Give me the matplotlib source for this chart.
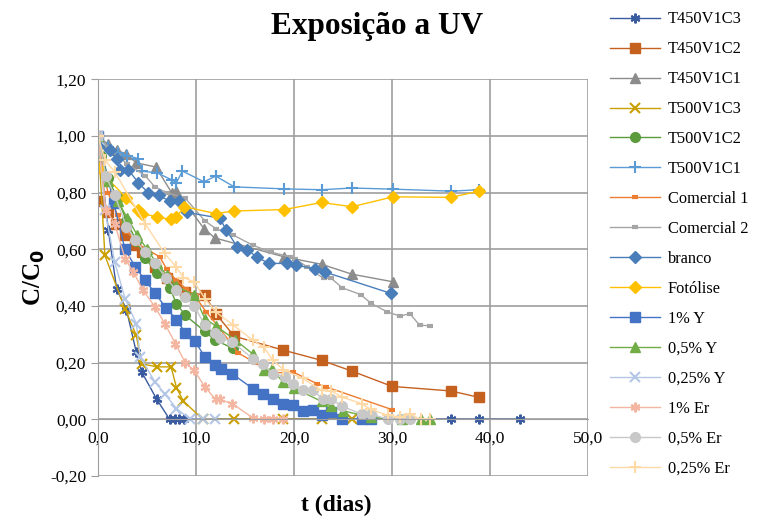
import matplotlib
matplotlib.use("Agg")
import matplotlib.pyplot as plt
from matplotlib.ticker import FuncFormatter

plt.rcParams["font.family"] = ["Liberation Serif", "DejaVu Serif"]

# dados (t em dias, C/C0)
labels = ["T450V1C3", "T450V1C2", "T450V1C1", "T500V1C3", "T500V1C2", "T500V1C1",
          "Comercial 1", "Comercial 2", "branco", "Fotólise", "1% Y", "0,5% Y",
          "0,25% Y", "1% Er", "0,5% Er", "0,25% Er"]

t_t450c3 = [0, 1.05, 1.9, 2.9, 3.9, 4.45, 6.0, 7.3, 7.8, 8.3, 8.8, 36, 38.9, 43]
c_t450c3 = [1.0, 0.667, 0.46, 0.387, 0.237, 0.167, 0.07, 0, 0, 0, 0, 0, 0, 0]

t_t450c2 = [0, 1, 1.8, 2.8, 3.8, 4.45, 5.8, 7, 8, 8.9, 10.9, 12, 13.9, 18.9, 22.8, 25.9, 30, 36, 38.9]
c_t450c2 = [0.77, 0.73, 0.69, 0.65, 0.614, 0.59, 0.537, 0.50, 0.473, 0.45, 0.438, 0.373,
            0.293, 0.244, 0.208, 0.17, 0.116, 0.10, 0.077]

t_t450c1 = [0, 1, 1.9, 2.9, 3.9, 5.9, 7.5, 8.0, 10.8, 11.9, 19.0, 22.8, 25.9, 30.1]
c_t450c1 = [1.0, 0.97, 0.95, 0.935, 0.905, 0.89, 0.80, 0.805, 0.673, 0.64, 0.573, 0.547, 0.512, 0.485]

t_t500c3 = [0, 0.7, 2.75, 3.9, 4.45, 6.0, 7.45, 8.0, 8.7, 10.7, 13.9, 18.9, 22.8, 25.9]
c_t500c3 = [1.0, 0.578, 0.39, 0.296, 0.196, 0.185, 0.185, 0.112, 0.064, 0, 0, 0, 0, 0]

t_t500c2 = [0, 0.3, 1, 2, 2.9, 3.9, 4.8, 6.0, 7.3, 8.0, 8.9, 10.9, 11.9, 13.8]
c_t500c2 = [1.0, 0.93, 0.85, 0.78, 0.70, 0.63, 0.57, 0.515, 0.465, 0.408, 0.367, 0.31, 0.28, 0.25]

t_t500c1 = [0, 1, 2, 3, 4.1, 4.5, 6.0, 7.5, 8.0, 8.6, 10.8, 12.0, 13.9, 19.0, 22.8, 25.9, 30.1, 36.0, 38.9]
c_t500c1 = [1.0, 0.96, 0.94, 0.93, 0.92, 0.875, 0.87, 0.845, 0.835, 0.876, 0.838, 0.858,
            0.82, 0.813, 0.81, 0.816, 0.812, 0.805, 0.81]

t_com1 = [0, 1, 2, 3, 4, 5, 6.3, 7, 8, 9, 10, 11, 12.3, 14.3, 16, 17.7, 19.9, 22.3, 23.3, 30]
c_com1 = [1.0, 0.80, 0.72, 0.66, 0.62, 0.60, 0.573, 0.53, 0.49, 0.46, 0.43, 0.38, 0.326,
          0.234, 0.20, 0.163, 0.167, 0.126, 0.114, 0.034]

t_com2 = [0, 1, 2, 3, 4.8, 5.8, 7, 8.9, 10.9, 12, 13.8, 15.8, 17.6, 19.6, 20.1, 21.3, 23,
          23.8, 24.9, 26.8, 27.8, 29.5, 30.8, 31.8, 32.8, 33.9]
c_com2 = [1.0, 0.96, 0.93, 0.90, 0.86, 0.82, 0.80, 0.78, 0.70, 0.673, 0.65, 0.614, 0.59,
          0.573, 0.567, 0.538, 0.497, 0.497, 0.464, 0.44, 0.41, 0.379, 0.364, 0.373, 0.332, 0.33]

t_branco = [0, 1.2, 1.9, 2.2, 3.1, 4.1, 5.1, 6.2, 7.3, 8.3, 9.05, 12.4, 13.1, 14.2, 15.2,
            16.2, 17.4, 19.3, 20.2, 22.1, 23.2, 29.9]
c_branco = [0.965, 0.95, 0.917, 0.88, 0.88, 0.835, 0.80, 0.79, 0.77, 0.77, 0.73, 0.71,
            0.667, 0.608, 0.598, 0.573, 0.55, 0.55, 0.543, 0.532, 0.519, 0.444]

t_fotolise = [0, 2.9, 4.1, 4.5, 6.0, 7.45, 8.0, 8.8, 12.0, 13.9, 19.0, 22.8, 25.9, 30.1, 36.0, 38.9]
c_fotolise = [0.885, 0.78, 0.74, 0.726, 0.714, 0.705, 0.714, 0.75, 0.726, 0.735, 0.74,
              0.765, 0.75, 0.785, 0.783, 0.805]

t_y1 = [0, 1.6, 2.75, 3.8, 4.8, 5.8, 6.9, 8.0, 8.9, 9.9, 10.9, 11.9, 12.5, 13.7, 15.8, 16.8,
        17.8, 18.9, 19.9, 20.9, 21.9, 22.8, 23.8, 24.9, 26.9, 27.8]
c_y1 = [1.0, 0.763, 0.60, 0.538, 0.49, 0.446, 0.394, 0.352, 0.305, 0.275, 0.22, 0.19, 0.179,
        0.16, 0.108, 0.09, 0.07, 0.055, 0.05, 0.03, 0.032, 0.014, 0.026, 0, 0, 0]

t_y05 = [0, 1, 2, 3, 4, 5, 6, 7, 8, 9.8, 10.9, 12, 14, 15.8, 16.9, 17.7, 18.9, 20, 22.8,
         23.8, 25, 27.8, 31, 32.9, 33.9]
c_y05 = [1.0, 0.84, 0.77, 0.71, 0.65, 0.60, 0.55, 0.51, 0.47, 0.438, 0.355, 0.33, 0.28, 0.23,
         0.173, 0.178, 0.13, 0.11, 0.063, 0.046, 0.03, 0.007, 0, 0, 0]

t_y025 = [0, 0.7, 1.7, 2.75, 3.9, 4.3, 5.8, 6.8, 8.0, 9.4, 10.7, 11.9]
c_y025 = [1.0, 0.74, 0.555, 0.426, 0.338, 0.22, 0.132, 0.09, 0.038, 0, 0, 0]

t_er1 = [0, 0.8, 1.7, 2.75, 3.6, 4.6, 5.8, 6.8, 7.9, 8.9, 9.8, 10.9, 12.0, 12.4, 13.7, 15.8,
         16.9, 17.8, 18.9]
c_er1 = [1.0, 0.74, 0.69, 0.567, 0.52, 0.455, 0.397, 0.338, 0.267, 0.199, 0.173, 0.114,
         0.07, 0.07, 0.055, 0.005, 0, 0, 0]

t_er05 = [0, 0.8, 1.7, 2.9, 3.8, 4.8, 5.8, 6.9, 8.0, 8.9, 9.8, 10.9, 11.9, 12.4, 13.7, 15.8,
          16.8, 17.8, 19.1, 19.9, 20.9, 21.9, 22.9, 23.8, 24.9, 26.9, 27.8, 29.6, 30.8, 31.8]
c_er05 = [1.0, 0.858, 0.79, 0.68, 0.632, 0.59, 0.552, 0.50, 0.455, 0.432, 0.40, 0.332, 0.305,
          0.288, 0.273, 0.214, 0.194, 0.16, 0.15, 0.124, 0.105, 0.105, 0.07, 0.07, 0.046,
          0.018, 0.018, 0, 0, 0]

t_er025 = [0, 0.7, 1.7, 4.8, 6.8, 8.0, 8.7, 9.8, 10.9, 12.0, 13.8, 15.8, 16.9, 17.8, 18.9,
           20.9, 22.8, 23.8, 24.9, 26.9, 27.8, 29.6, 30.8, 31.8, 32.9, 33.9]
c_er025 = [1.0, 0.915, 0.873, 0.69, 0.585, 0.536, 0.50, 0.485, 0.426, 0.379, 0.332, 0.279,
           0.255, 0.21, 0.175, 0.144, 0.102, 0.1, 0.078, 0.055, 0.035, 0.014, 0.008, 0.018, 0, 0]

series = [
    (t_t450c3, c_t450c3, "#3A5BA0", (6, 2, 0), 7, None),
    (t_t450c2, c_t450c2, "#C5611F", "s", 7, None),
    (t_t450c1, c_t450c1, "#8C8C8C", "^", 7, None),
    (t_t500c3, c_t500c3, "#C9A000", "x", 7, None),
    (t_t500c2, c_t500c2, "#5B9B3C", "o", 7, None),
    (t_t500c1, c_t500c1, "#5B9BD5", "+", 8, None),
    (t_com1, c_com1, "#ED7D31", "_", 5, 3),
    (t_com2, c_com2, "#A5A5A5", "_", 5, 3),
    (t_branco, c_branco, "#4A7EBB", "D", 6, None),
    (t_fotolise, c_fotolise, "#FFC000", "D", 6, None),
    (t_y1, c_y1, "#4472C4", "s", 7, None),
    (t_y05, c_y05, "#70AD47", "^", 7, None),
    (t_y025, c_y025, "#B4C7E7", "x", 7, None),
    (t_er1, c_er1, "#F4B6A0", (6, 2, 0), 7, None),
    (t_er05, c_er05, "#C8C8C8", "o", 7, None),
    (t_er025, c_er025, "#FFD9A6", "+", 8, None),
]

fig = plt.figure(figsize=(7.6, 5.21), dpi=100)
ax = fig.add_axes([0.129, 0.0864, 0.645, 0.7616])

handles = []
for (t, c, col, mk, ms, mew), lab in zip(series, labels):
    if mew is None:
        mew = 1.5 if mk in ("x", "+", (6, 2, 0)) else 1
    h, = ax.plot(t, c, color=col, lw=1, marker=mk, markersize=ms,
                 markeredgewidth=mew, markerfacecolor=col, markeredgecolor=col,
                 label=lab)
    handles.append(h)

ax.set_xlim(0, 50)
ax.set_ylim(-0.2, 1.2)
ax.set_xticks(range(0, 51, 10))
ax.set_yticks([-0.2, 0, 0.2, 0.4, 0.6, 0.8, 1.0, 1.2])
ax.xaxis.set_major_formatter(FuncFormatter(lambda v, p: f"{v:.1f}".replace(".", ",")))
ax.yaxis.set_major_formatter(FuncFormatter(lambda v, p: f"{v:.2f}".replace(".", ",")))
ax.grid(True, color="#9E9E9E", lw=1.2)
ax.set_axisbelow(True)
for s in ("top", "right"):
    ax.spines[s].set_visible(False)
ax.spines["left"].set_color("#9E9E9E")
ax.spines["bottom"].set_color("#9E9E9E")
ax.spines["bottom"].set_position(("data", 0))
ax.tick_params(axis="both", labelsize=12.5, color="#9E9E9E", length=5)
ax.tick_params(axis="x", length=0, pad=8)

fig.text(0.496, 0.95, "Exposição a UV", ha="center", va="center",
         fontsize=22.5, fontweight="bold")
fig.text(0.045, 0.467, "C/C$_\\mathbf{0}$", ha="center", va="center", rotation=90,
         fontsize=18, fontweight="bold")
fig.text(0.443, 0.03, "t (dias)", ha="center", va="center", fontsize=17, fontweight="bold")

fig.legend(handles=handles, loc="upper left", bbox_to_anchor=(0.787, 1.0),
           frameon=False, fontsize=11.8, labelspacing=0.85, handlelength=3.1,
           handletextpad=0.45, borderaxespad=0.3)

fig.savefig("out.png", dpi=100)
